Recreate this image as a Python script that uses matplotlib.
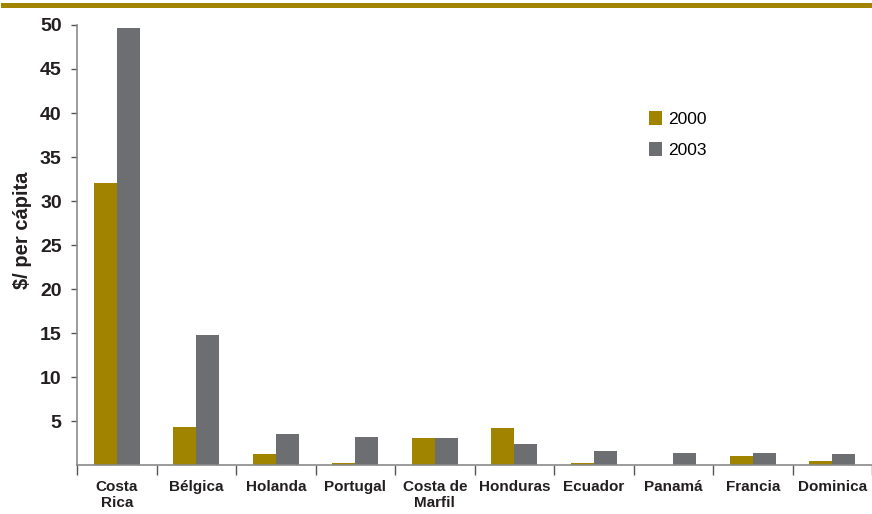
import matplotlib.pyplot as plt
import numpy as np
from matplotlib.lines import Line2D
from matplotlib.patches import Patch

plt.rcParams["font.family"] = ["Liberation Sans", "DejaVu Sans"]

countries = ["Costa\nRica", "Bélgica", "Holanda", "Portugal", "Costa de\nMarfil",
             "Honduras", "Ecuador", "Panamá", "Francia", "Dominica"]
values_2000 = [32.0, 4.3, 1.25, 0.2, 3.1, 4.2, 0.2, 0.0, 1.0, 0.45]
values_2003 = [49.7, 14.8, 3.5, 3.2, 3.1, 2.4, 1.6, 1.35, 1.35, 1.2]
yticks = [5, 10, 15, 20, 25, 30, 35, 40, 45, 50]

GOLD = "#a08400"
GREY = "#6d6e71"
AXIS = "#8a8a8a"
TEXT = "#231f20"

fig = plt.figure(figsize=(8.72, 5.14), dpi=100)
ax = fig.add_axes([77 / 872, 49 / 514, 795 / 872, 440 / 514])

x = np.arange(len(countries))
w = 0.29
ax.bar(x - w / 2, values_2000, w, color=GOLD, label="2000")
ax.bar(x + w / 2, values_2003, w, color=GREY, label="2003")

ax.set_xlim(-0.5, len(countries) - 0.5)
ax.set_ylim(0, 50)

# category boundaries get the tick marks, labels sit centred below each group
ax.set_xticks(np.arange(len(countries) + 1) - 0.5)
ax.set_xticklabels([])
ax.set_xticks(x, minor=True)
ax.set_xticklabels(countries, minor=True, fontsize=11, fontweight="bold",
                   color=TEXT, linespacing=1.2)
ax.tick_params(axis="x", which="major", length=7, width=1, color="#555555", direction="out")
ax.tick_params(axis="x", which="minor", length=0, pad=11)

ax.set_yticks(yticks)
ax.set_yticklabels([str(t) for t in yticks], fontsize=14, fontweight="bold", color=TEXT)
ax.tick_params(axis="y", length=4, width=1, color="#555555", pad=7)

for side in ("top", "right"):
    ax.spines[side].set_visible(False)
for side in ("left", "bottom"):
    ax.spines[side].set_color(AXIS)
    ax.spines[side].set_linewidth(1.2)

ax.set_ylabel("$/ per cápita", fontsize=14.5, fontweight="bold", color=TEXT)
ax.yaxis.set_label_coords(-0.056, 0.534)

handles = [Patch(facecolor=GOLD, label="2000"), Patch(facecolor=GREY, label="2003")]
ax.legend(handles=handles, loc="upper left", bbox_to_anchor=(0.719, 0.805), frameon=False,
          fontsize=12.5, handlelength=0.8, handleheight=0.9, handletextpad=0.3,
          labelspacing=0.85, borderaxespad=0, borderpad=0)

# rule across the top of the slide
fig.add_artist(Line2D([3 / 872, 1.0], [1 - 4.5 / 514, 1 - 4.5 / 514],
                      transform=fig.transFigure, color=GOLD, linewidth=3.6))

fig.savefig("out.png", dpi=100)
